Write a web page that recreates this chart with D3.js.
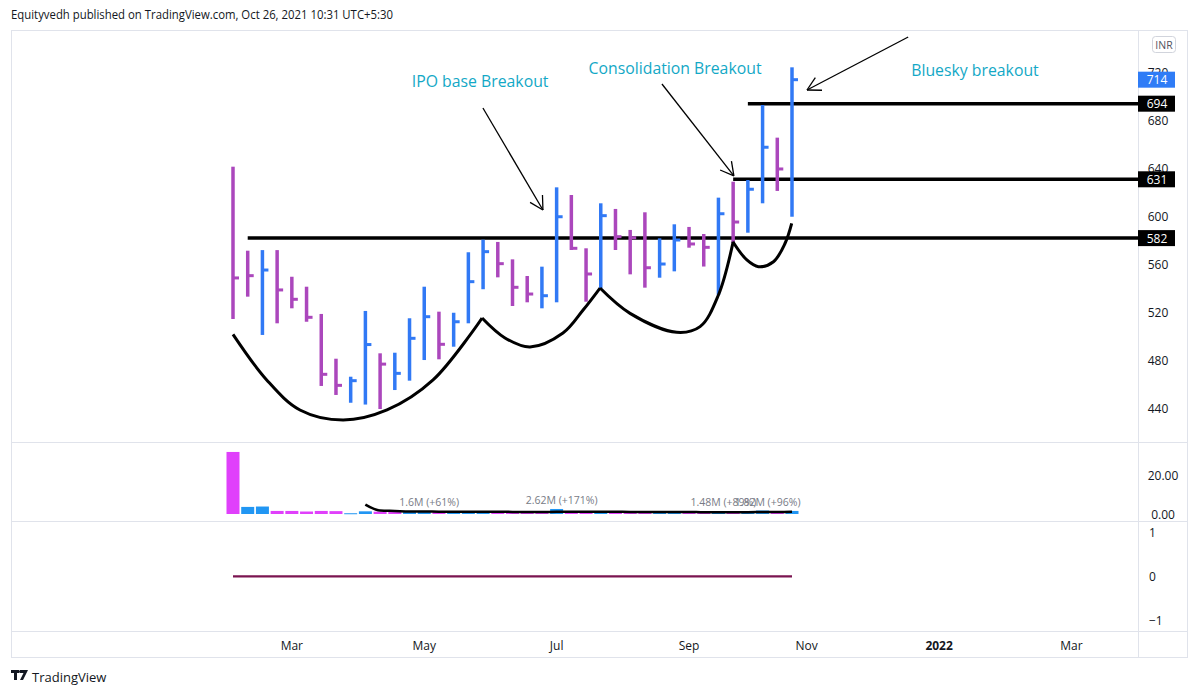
<!DOCTYPE html>
<html><head><meta charset="utf-8">
<script src="https://cdn.jsdelivr.net/npm/d3@7"></script>
<style>
html,body{margin:0;padding:0;background:#fff;}
svg{display:block;}
</style></head><body>
<svg id="c" width="1200" height="695"></svg>
<script>
// ---------------- DATA ----------------
const dates = ["2021-02-01","2021-02-08","2021-02-15","2021-02-22","2021-03-01","2021-03-08","2021-03-15","2021-03-22","2021-03-29",
  "2021-04-05","2021-04-12","2021-04-19","2021-04-26","2021-05-03","2021-05-10","2021-05-17","2021-05-24","2021-05-31",
  "2021-06-07","2021-06-14","2021-06-21","2021-06-28","2021-07-05","2021-07-12","2021-07-19","2021-07-26",
  "2021-08-02","2021-08-09","2021-08-16","2021-08-23","2021-08-30","2021-09-06","2021-09-13","2021-09-20","2021-09-27",
  "2021-10-04","2021-10-11","2021-10-18","2021-10-25"];
const highs  = [641.5,571.5,572,572,549.8,541.5,518.8,481.5,466.5,521.3,486,486.5,515.2,541.5,520.7,519.8,570.2,580.7,578.8,564.3,550.4,558.2,624.3,617.9,573.5,611,606.3,588.8,603.5,581.8,593.5,591.3,585.4,615.7,629,630.4,692.9,665.7,724.3];
const lows   = [514.6,533.2,501.3,511,523.5,512.3,458.8,451.3,444.8,443.3,439.6,455.4,463.2,480.4,481,491.5,511,539.4,549.3,525.4,528.5,523.5,528.5,572.1,529,540.2,572.1,551.8,540.7,549,554.3,574,558.3,534.6,577.9,586.5,611,621.3,599.8];
const closes = [548.8,550.7,555.4,538.8,531,516,468.5,459.3,463.2,493.3,477,469.3,498.5,516.5,493.5,512.3,545.7,570.7,560.7,541,535.4,534,599.8,573.5,552.1,600.7,583.2,582.3,557.3,560.4,580.4,577.1,574.3,602.3,595.4,622.7,657.7,639.6,714];
const barUp  = [0,0,1,0,0,0,0,0,1,1,0,1,1,1,0,1,1,1,0,0,0,1,1,0,0,1,0,0,0,1,1,0,0,1,0,1,1,0,1];
const volumes = [32.4,3.7,3.9,1.6,1.6,1.3,1.6,1.5,0.4,1.4,1.2,1.1,1.0,1.6,1.0,0.9,1.2,1.3,0.9,0.8,0.7,0.8,2.62,1.3,1.0,1.1,0.9,0.7,0.9,0.8,0.9,0.7,0.8,1.48,1.2,1.0,1.82,1.1,1.6];
const oscValues = [0,0,0,0,0,0,0,0,0,0,0,0,0,0,0,0,0,0,0,0,0,0,0,0,0,0,0,0,0,0,0,0,0,0,0,0,0,0,0];
const volumeNotes = [{i:13,text:"1.6M (+61%)"},{i:22,text:"2.62M (+171%)"},{i:33,text:"1.48M (+89%)"},{i:36,text:"1.82M (+96%)"}];
const priceTicks = [440,480,520,560,600,640,680,720];
const volumeTicks = [0,20];
const volumeTickLabels = ["0.00","20.00"];
const oscTicks = [-1,0,1];
const timeTickDates = ["2021-03-01","2021-05-03","2021-07-05","2021-09-06","2021-11-01","2022-01-03","2022-03-07"];
const timeTickLabels = ["Mar","May","Jul","Sep","Nov","2022","Mar"];
const levelPrices = [582,631,694];
const levelStartIdx = [1,34,35];
const lastPrice = 714;
const maPeriod = 10;
// drawings: [weekIndex, price]
const curves = [
  [[0,501.8],[2.29,463.8],[4.55,438.8],[7.48,430.4],[10.47,438.8],[13.6,463.8],[16.93,515.4]],
  [[16.93,515.4],[18.49,498.8],[20.19,491.3],[22.43,502.9],[23.8,522.1],[24.95,540.4]],
  [[24.95,540.4],[26.99,519.3],[30.16,503.5],[31.75,508.2],[33.0,534.6],[34.0,578.8]],
  [[33.98,579],[34.93,563.8],[35.72,558.2],[36.74,562.3],[37.53,577.7],[37.98,594.3]]
];
const arrows = [
  {from:[16.99,690.4], to:[21.07,605.4]},
  {from:[29.16,710.4], to:[34.05,633.8]},
  {from:[45.9,749.6], to:[39.02,705.4]}
];
const notes = [
  {i:16.8, p:713, text:"IPO base Breakout"},
  {i:30.05, p:723.8, text:"Consolidation Breakout"},
  {i:50.44, p:722.1, text:"Bluesky breakout"}
];

// ---------------- LAYOUT ----------------
const L = 11, R = 1188, AX = 1138;
const T = 30, P1 = 442, P2 = 521, P3 = 631, B = 658;
const UP = "#3179f5", DN = "#ab47bc";
const VUP = "#2196f3", VDN = "#e040fb";
const FONT = "'Open Sans', 'Liberation Sans', sans-serif";

const parse = d3.utcParse("%Y-%m-%d");
const D = dates.map(parse);
const svg = d3.select("#c");

const x = d3.scaleUtc().domain([D[0], D[D.length-1]]).range([233, 792]);
const WEEK = 7*864e5;
const xi = i => x(new Date(D[0].getTime() + i*WEEK));
const y = d3.scaleLinear().domain([412.1, 755.4]).range([P1, T]);
const yv = d3.scaleLinear().domain([0, 20]).range([514, 475.7]);
const yo = d3.scaleLinear().domain([-1, 1]).range([620, 532.7]);

// header
svg.append("text").attr("x", 11).attr("y", 19).attr("font-family", FONT).attr("font-size", 12.5)
  .attr("textLength", 382).attr("lengthAdjust", "spacingAndGlyphs")
  .attr("fill", "#131722").text("Equityvedh published on TradingView.com, Oct 26, 2021 10:31 UTC+5:30");

// frame
const g = svg.append("g");
g.append("rect").attr("x", L+0.5).attr("y", T+0.5).attr("width", R-L-1).attr("height", B-T-1)
  .attr("fill", "none").attr("stroke", "#e0e3eb");
[P1, P2, P3].forEach(v => g.append("line").attr("x1", L).attr("x2", R).attr("y1", v+0.5).attr("y2", v+0.5).attr("stroke", "#e0e3eb"));
g.append("line").attr("x1", AX+0.5).attr("x2", AX+0.5).attr("y1", T).attr("y2", B).attr("stroke", "#e0e3eb");

// clip for price pane
svg.append("clipPath").attr("id", "cp").append("rect").attr("x", L).attr("y", T).attr("width", AX-L).attr("height", P1-T);
const pane = svg.append("g").attr("clip-path", "url(#cp)");

// level lines
levelPrices.forEach((lv, k) => {
  pane.append("line").attr("x1", x(D[levelStartIdx[k]])).attr("x2", AX)
    .attr("y1", y(lv)).attr("y2", y(lv)).attr("stroke", "#000").attr("stroke-width", 3.5);
});

// HLC bars
const bars = pane.append("g");
D.forEach((d, i) => {
  const c = barUp[i] ? UP : DN;
  const cx = x(d);
  bars.append("line").attr("x1", cx).attr("x2", cx).attr("y1", y(highs[i])).attr("y2", y(lows[i]))
    .attr("stroke", c).attr("stroke-width", 3.5);
  bars.append("line").attr("x1", cx).attr("x2", cx+6).attr("y1", y(closes[i])).attr("y2", y(closes[i]))
    .attr("stroke", c).attr("stroke-width", 3);
});

// curves
const cl = d3.line().x(p => xi(p[0])).y(p => y(p[1])).curve(d3.curveCatmullRom.alpha(0.5));
curves.forEach(c => pane.append("path").attr("d", cl(c)).attr("fill", "none").attr("stroke", "#000").attr("stroke-width", 3));

// arrows
arrows.forEach(a => {
  const x1 = xi(a.from[0]), y1 = y(a.from[1]), x2 = xi(a.to[0]), y2 = y(a.to[1]);
  pane.append("line").attr("x1", x1).attr("y1", y1).attr("x2", x2).attr("y2", y2).attr("stroke", "#000").attr("stroke-width", 1.3);
  const ang = Math.atan2(y1 - y2, x1 - x2), len = 15, sp = 0.5;
  [ang - sp, ang + sp].forEach(t => pane.append("line").attr("x1", x2).attr("y1", y2)
    .attr("x2", x2 + len*Math.cos(t)).attr("y2", y2 + len*Math.sin(t)).attr("stroke", "#000").attr("stroke-width", 1.3));
});

// text notes
notes.forEach(n => svg.append("text").attr("x", xi(n.i)).attr("y", y(n.p)).attr("text-anchor", "middle")
  .attr("dominant-baseline", "central").attr("font-family", FONT).attr("font-size", 15.8).attr("fill", "#13a8c6").text(n.text));

// price axis
const axT = svg.append("g").attr("font-family", FONT).attr("font-size", 12).attr("fill", "#131722");
priceTicks.forEach(t => axT.append("text").attr("x", 1158).attr("y", y(t)).attr("text-anchor", "middle")
  .attr("dominant-baseline", "central").text(t));
// INR
svg.append("rect").attr("x", 1152.5).attr("y", 36.5).attr("width", 23).attr("height", 16).attr("rx", 3)
  .attr("fill", "#fff").attr("stroke", "#d1d4dc");
svg.append("text").attr("x", 1164).attr("y", 44.5).attr("text-anchor", "middle").attr("dominant-baseline", "central")
  .attr("font-family", FONT).attr("font-size", 10.5).attr("fill", "#50535e").text("INR");
// level labels
function priceBox(v, fill) {
  svg.append("rect").attr("x", 1138).attr("y", y(v) - 8).attr("width", 37).attr("height", 16).attr("fill", fill);
  svg.append("text").attr("x", 1157).attr("y", y(v)).attr("text-anchor", "middle").attr("dominant-baseline", "central")
    .attr("font-family", FONT).attr("font-size", 12).attr("fill", "#fff").text(v);
}
levelPrices.forEach(v => priceBox(v, "#000"));
priceBox(lastPrice, "#2f7cf6");

// volume pane
const vg = svg.append("g");
D.forEach((d, i) => {
  const up = i === 0 ? barUp[0] : closes[i] >= closes[i-1];
  const top = yv(volumes[i]);
  vg.append("rect").attr("x", x(d) - 6.5).attr("width", 13).attr("y", top).attr("height", Math.max(1, yv(0) - top))
    .attr("fill", up ? VUP : VDN);
});
const ma = volumes.map((v, i) => i < maPeriod - 1 ? null : d3.mean(volumes.slice(i - maPeriod + 1, i + 1)));
vg.append("path").datum(ma.map((m, i) => [i, m]).filter(p => p[1] !== null))
  .attr("d", d3.line().x(p => x(D[p[0]])).y(p => yv(p[1])).curve(d3.curveMonotoneX))
  .attr("fill", "none").attr("stroke", "#000").attr("stroke-width", 2.5);
volumeNotes.forEach(n => vg.append("text").attr("x", x(D[n.i]) + 5).attr("y", yv(volumes[n.i]) - 5)
  .attr("text-anchor", "middle").attr("font-family", FONT).attr("font-size", 10.5).attr("fill", "#787b86").text(n.text));
volumeTicks.forEach((t, k) => axT.append("text").attr("x", 1163).attr("y", yv(t)).attr("text-anchor", "middle")
  .attr("dominant-baseline", "central").text(volumeTickLabels[k]));

// oscillator pane
svg.append("path").datum(oscValues.map((v, i) => [i, v]))
  .attr("d", d3.line().x(p => x(D[p[0]])).y(p => yo(p[1])))
  .attr("fill", "none").attr("stroke", "#7b1450").attr("stroke-width", 2.2);
oscTicks.forEach(t => axT.append("text").attr("x", 1149).attr("y", yo(t)).attr("text-anchor", "start")
  .attr("dominant-baseline", "central").text(t < 0 ? "\u22121" : t));

// time axis
timeTickDates.forEach((td, k) => svg.append("text").attr("x", x(parse(td))).attr("y", 645)
  .attr("text-anchor", "middle").attr("dominant-baseline", "central").attr("font-family", FONT).attr("font-size", 12)
  .attr("font-weight", timeTickLabels[k] === "2022" ? "bold" : "normal").attr("fill", "#131722").text(timeTickLabels[k]));

// footer logo
const lg = svg.append("g").attr("transform", "translate(11,670)");
lg.append("rect").attr("x", 0).attr("y", 0).attr("width", 8).attr("height", 3).attr("fill", "#131722");
lg.append("rect").attr("x", 3).attr("y", 0).attr("width", 3).attr("height", 10).attr("fill", "#131722");
lg.append("path").attr("d", "M9 0 H17 L12 10 H9 L12.5 3 H9 Z").attr("fill", "#131722");
lg.append("circle").attr("cx", 9.5).attr("cy", 1.5).attr("r", 1.5).attr("fill", "#131722");
svg.append("text").attr("x", 32).attr("y", 677).attr("dominant-baseline", "central").attr("font-family", FONT)
  .attr("font-size", 13).attr("fill", "#131722").text("TradingView");
</script>
</body></html>
